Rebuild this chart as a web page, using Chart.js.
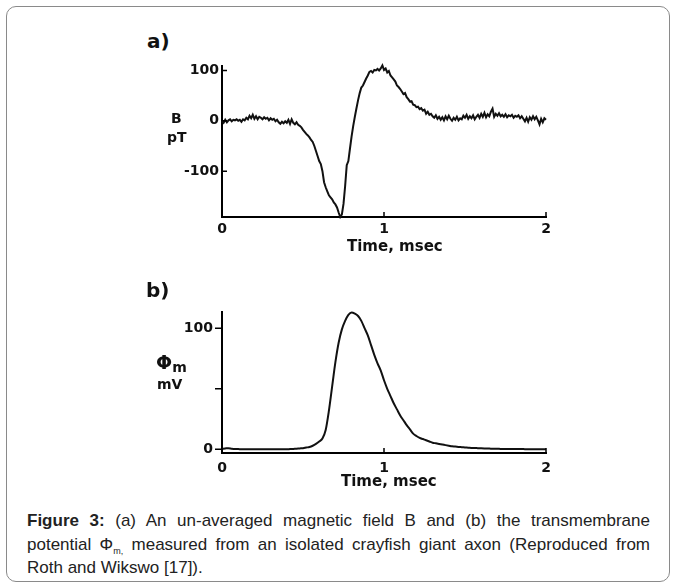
<!DOCTYPE html>
<html>
<head>
<meta charset="utf-8">
<script src="https://cdn.jsdelivr.net/npm/chart.js@4"></script>
<style>
  body { margin: 0; background: #fff; }
  #page { position: relative; width: 676px; height: 588px; background: #fff; overflow: hidden; }
  #frame { position: absolute; left: 6px; top: 6px; width: 662px; height: 574px; border: 1.5px solid #8a8a8a; border-radius: 10px; }
  canvas { position: absolute; }
  .lbl { position: absolute; font-family: "DejaVu Sans", sans-serif; font-weight: bold; color: #111; white-space: nowrap; }
  #caption { position: absolute; left: 27px; top: 509px; width: 623px; font-family: "Liberation Sans", Arial, sans-serif; font-size: 17px; line-height: 23.5px; text-align: justify; color: #222; }
  #caption sub { font-size: 9px; line-height: 0; vertical-align: -4px; }
</style>
</head>
<body>
<div id="page">
  <div id="frame"></div>
  <canvas id="chartA" width="420" height="200" style="left:140px;top:55px"></canvas>
  <canvas id="chartB" width="420" height="195" style="left:140px;top:295px"></canvas>

  <div class="lbl" style="left:147px;top:29px;font-size:20px">a)</div>
  <div class="lbl" style="left:171px;top:110px;font-size:14px">B</div>
  <div class="lbl" style="left:167px;top:129px;font-size:14px">pT</div>
  <div class="lbl" style="left:347px;top:237px;font-size:15px">Time, msec</div>

  <div class="lbl" style="left:146px;top:278px;font-size:20px">b)</div>
  <div class="lbl" style="left:156px;top:351px;font-size:19px">&Phi;<span style="font-size:14px;position:relative;top:3px">m</span></div>
  <div class="lbl" style="left:157px;top:376px;font-size:14px">mV</div>
  <div class="lbl" style="left:341px;top:472px;font-size:15px">Time, msec</div>

  <div id="caption"><b>Figure 3:</b> (a) An un-averaged magnetic field B and (b) the transmembrane potential &Phi;<sub>m,</sub> measured from an isolated crayfish giant axon (Reproduced from Roth and Wikswo [17]).</div>
</div>

<script>
/* x axis (msec) */
var xTicks = [0, 1, 2]
var stepA = 0.01
var stepB = 0.02

/* panel a: magnetic field B (pT), every 0.01 msec from 0 to 2 */
var fieldB = [
  0, -4, 2, -3, 1, 3, -1, 2, 1, 3,
  0, 2, -2, 3, 1, 6, 3, 10, 5, 12,
  4, 9, 3, 8, 6, 3, 7, 4, 6, 1,
  5, 2, 4, -1, 2, -3, -6, -2, -5, -1,
  -4, 2, -6, 3, -4, -7, -3, -8, -10, -13,
  -18, -22, -26, -29, -33, -38, -42, -50, -60, -70,
  -80, -86, -100, -122, -132, -140, -148, -152, -156, -162,
  -166, -172, -182, -191, -186, -165, -130, -88, -80, -55,
  -31, -10, 8, 25, 41, 55, 66, 70, 77, 84,
  90, 97, 99, 96, 101, 100, 103, 100, 104, 110,
  101, 104, 96, 99, 90, 86, 82, 78, 70, 67,
  63, 58, 53, 55, 47, 43, 38, 39, 32, 31,
  27, 28, 23, 25, 20, 22, 14, 18, 12, 14,
  9, 6, 11, 4, 8, 2, 7, 1, 9, 3,
  10, 4, 0, 6, 2, 8, 1, 5, 3, 10,
  6, 12, 4, 9, 5, 11, 3, 8, 12, 6,
  14, 8, 16, 7, 13, 9, 18, 24, 8, 14,
  10, 15, 9, 12, 8, 13, 7, 11, 9, 12,
  6, 10, 8, 11, 5, 9, 4, -1, 6, -2,
  7, 2, 9, 3, 8, 1, -7, 4, -3, 5,
  2
]
var yTicksA = [-100, 0, 100]

/* panel b: transmembrane potential (mV), every 0.02 msec from 0 to 2 */
var phiM = [
  0.5, 0.8, 1, 0.6, 0.3, 0.2, 0.1, 0, 0, 0,
  0, 0, 0, 0, 0, 0, 0, 0, 0, 0,
  0, 0.2, 0.4, 0.6, 0.8, 1, 1.5, 2, 3, 4.5,
  6.5, 9, 16, 32, 52, 72, 88, 99, 106, 111,
  113, 112, 110, 106, 100, 94, 86, 78, 71, 65,
  57, 50, 44, 38, 33, 28, 24, 20, 16.5, 13,
  11, 9.5, 8.5, 7.5, 6.5, 5.5, 5, 4.5, 4, 3.5,
  3, 2.5, 2.3, 2, 1.8, 1.6, 1.4, 1.2, 1.1, 1,
  0.9, 0.8, 0.7, 0.6, 0.5, 0.5, 0.4, 0.4, 0.3, 0.3,
  0.3, 0.2, 0.2, 0.2, 0.1, 0.1, 0.1, 0.1, 0, 0,
  0
]
var yTicksB = [0, 50, 100]
var yLabelsB = ['0', '', '100']

/* small tick marks, inward or outward */
const tickMarks = {
  id: 'tickMarks',
  afterDraw(chart, args, opts) {
    const ctx = chart.ctx
    const area = chart.chartArea
    const sx = chart.scales.x, sy = chart.scales.y
    ctx.save()
    ctx.strokeStyle = '#000'
    ctx.lineWidth = 1.5
    ctx.beginPath()
    sx.ticks.forEach(t => {
      const px = sx.getPixelForValue(t.value)
      ctx.moveTo(px, area.bottom)
      ctx.lineTo(px, area.bottom - opts.xLen)
    })
    sy.ticks.forEach(t => {
      const py = sy.getPixelForValue(t.value)
      ctx.moveTo(area.left, py)
      ctx.lineTo(area.left + opts.yLen, py)
    })
    ctx.stroke()
    ctx.restore()
  }
}

function toPoints(vals, step) {
  return vals.map((v, i) => ({ x: +(i * step).toFixed(2), y: v }))
}

function makeChart(id, pts, yMin, yMax, yTicks, yLabels, tension, marks, xHeight, yPad, xPad) {
  const tickFont = { family: 'DejaVu Sans', weight: 'bold', size: 14 }
  return new Chart(document.getElementById(id), {
    type: 'line',
    data: {
      datasets: [{
        data: pts,
        borderColor: '#111',
        borderWidth: 2,
        pointRadius: 0,
        tension: tension,
        cubicInterpolationMode: tension ? 'monotone' : 'default',
        clip: false
      }]
    },
    options: {
      responsive: false,
      animation: false,
      layout: { padding: { left: 0, top: 8, right: 14, bottom: 0 } },
      plugins: { legend: { display: false }, tooltip: { enabled: false }, tickMarks: marks },
      scales: {
        x: {
          type: 'linear',
          min: 0, max: 2,
          afterBuildTicks: s => { s.ticks = xTicks.map(v => ({ value: v })) },
          afterFit: s => { s.height = xHeight },
          grid: { display: false, drawTicks: false },
          border: { display: true, color: '#000', width: 2 },
          ticks: { color: '#111', font: tickFont, padding: xPad, maxRotation: 0, callback: v => String(v) }
        },
        y: {
          min: yMin, max: yMax,
          afterBuildTicks: s => { s.ticks = yTicks.map(v => ({ value: v })) },
          afterFit: s => { s.width = 82 },
          grid: { display: false, drawTicks: false },
          border: { display: true, color: '#000', width: 2 },
          ticks: { color: '#111', font: tickFont, padding: yPad,
            callback: (v, i) => yLabels ? yLabels[i] : String(v) }
        }
      }
    },
    plugins: [tickMarks]
  })
}

makeChart('chartA', toPoints(fieldB, stepA), -191, 108, yTicksA, null, 0, { xLen: 5, yLen: 5 }, 38, 3, 4)
makeChart('chartB', toPoints(phiM, stepB), -3, 113, yTicksB, yLabelsB, 0.4, { xLen: 5, yLen: -7 }, 37, 9, 7)
</script>
</body>
</html>
